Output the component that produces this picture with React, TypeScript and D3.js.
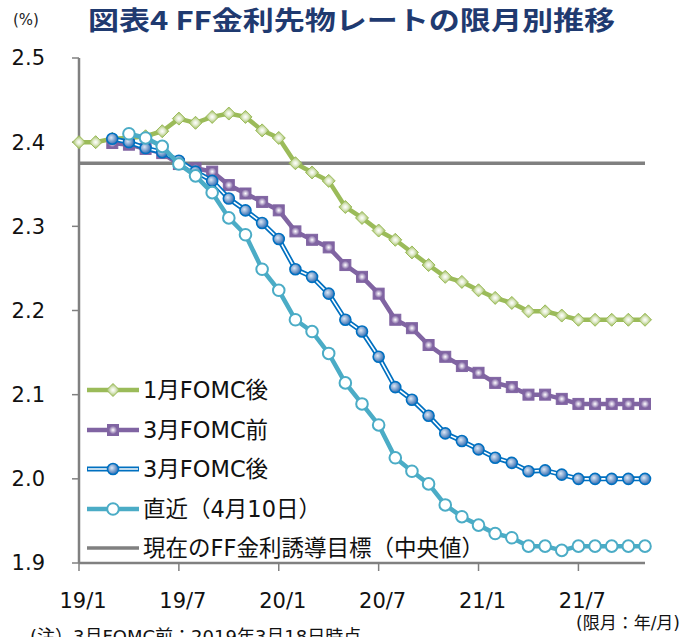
import React from 'react'
import * as d3 from 'd3'

// values (%), one per contract month starting at 19/1
const janAfter = [2.400, 2.400, 2.404, 2.405, 2.407, 2.413, 2.428, 2.423, 2.430, 2.434, 2.430, 2.414, 2.405, 2.375, 2.364, 2.354, 2.323, 2.310, 2.295, 2.284, 2.269, 2.254, 2.240, 2.234, 2.224, 2.215, 2.209, 2.199, 2.199, 2.194, 2.189, 2.189, 2.189, 2.189, 2.189]
const marBefore = [2.399, 2.397, 2.392, 2.387, 2.374, 2.369, 2.365, 2.349, 2.339, 2.329, 2.319, 2.294, 2.284, 2.275, 2.254, 2.240, 2.220, 2.189, 2.179, 2.159, 2.145, 2.134, 2.126, 2.114, 2.109, 2.100, 2.100, 2.095, 2.089, 2.089, 2.089, 2.089, 2.089]
const marAfter = [2.404, 2.400, 2.393, 2.388, 2.378, 2.365, 2.354, 2.333, 2.319, 2.304, 2.285, 2.249, 2.240, 2.220, 2.189, 2.175, 2.145, 2.109, 2.094, 2.075, 2.054, 2.045, 2.035, 2.025, 2.019, 2.009, 2.010, 2.005, 2.000, 2.000, 2.000, 2.000, 2.000]
const latest = [2.410, 2.405, 2.395, 2.374, 2.360, 2.340, 2.310, 2.290, 2.249, 2.224, 2.189, 2.175, 2.149, 2.114, 2.089, 2.064, 2.025, 2.009, 1.994, 1.969, 1.955, 1.945, 1.935, 1.930, 1.920, 1.920, 1.915, 1.920, 1.920, 1.920, 1.920, 1.920]
const targetRate = 2.375

const seriesStart = { janAfter: 0, marBefore: 2, marAfter: 2, latest: 3 }
const xTickLabels = ['19/1', '19/7', '20/1', '20/7', '21/1', '21/7']
const yTicks = [2.5, 2.4, 2.3, 2.2, 2.1, 2.0, 1.9]
const legendLabels = ['1月FOMC後', '3月FOMC前', '3月FOMC後', '直近（4月10日）', '現在のFF金利誘導目標（中央値）']

const W = 683
const H = 637
const font = 'DejaVu Sans, "Noto Sans CJK JP", sans-serif'

const x = d3.scaleLinear().domain([0, 34]).range([79, 645])
const y = d3.scaleLinear().domain([1.9, 2.5]).range([563, 58])

const GREEN = '#9BBB59'
const PURPLE = '#8064A2'
const BLUE = '#0070C0'
const CYAN = '#4BACC6'
const GRAY = '#808080'

const toPoints = (vals: number[], start: number) => vals.map((v, i) => [start + i, v] as [number, number])

const line = d3.line<[number, number]>().x(d => x(d[0])).y(d => y(d[1]))

const Diamond = ({ cx, cy }: { cx: number; cy: number }) => (
  <path d={`M${cx},${cy - 6.5}L${cx + 6.5},${cy}L${cx},${cy + 6.5}L${cx - 6.5},${cy}Z`} fill="url(#gGreen)" stroke={GREEN} strokeWidth={1} />
)
const Square = ({ cx, cy }: { cx: number; cy: number }) => (
  <rect x={cx - 5.5} y={cy - 5.5} width={11} height={11} fill="url(#gPurple)" stroke={PURPLE} strokeWidth={1} />
)
const Ball = ({ cx, cy }: { cx: number; cy: number }) => (
  <circle cx={cx} cy={cy} r={5.5} fill="url(#gBlue)" stroke={BLUE} strokeWidth={1.6} />
)
const Ring = ({ cx, cy }: { cx: number; cy: number }) => (
  <circle cx={cx} cy={cy} r={5.8} fill="#fff" stroke={CYAN} strokeWidth={2} />
)

export default function App() {
  const green = toPoints(janAfter, seriesStart.janAfter)
  const purple = toPoints(marBefore, seriesStart.marBefore)
  const blue = toPoints(marAfter, seriesStart.marAfter)
  const cyan = toPoints(latest, seriesStart.latest)

  const legendY = [390, 430, 469, 509, 548]
  const lx0 = 87
  const lx1 = 139
  const lxm = 113

  return (
    <svg width={W} height={H} style={{ position: 'absolute', left: 0, top: 0 }} fontFamily={font}>
      <defs>
        <radialGradient id="gGreen">
          <stop offset="0" stopColor="#ffffff" />
          <stop offset="0.35" stopColor="#E6EED5" />
          <stop offset="1" stopColor={GREEN} />
        </radialGradient>
        <radialGradient id="gPurple">
          <stop offset="0" stopColor="#ffffff" />
          <stop offset="0.3" stopColor="#CFC4DD" />
          <stop offset="0.75" stopColor={PURPLE} />
        </radialGradient>
        <radialGradient id="gBlue" cx="0.4" cy="0.4">
          <stop offset="0" stopColor="#DCE6F4" />
          <stop offset="1" stopColor="#4F81BD" />
        </radialGradient>
      </defs>

      <rect width={W} height={H} fill="#fff" />

      <text x={13} y={25} fontSize={15} fill="#222">(%)</text>
      <text x={88} y={30} fontSize={26} fontWeight="bold" fill="#1F3A70" textLength={527} lengthAdjust="spacingAndGlyphs"
        fontFamily='"Noto Sans CJK JP", sans-serif'>図表4 FF金利先物レートの限月別推移</text>

      {/* axes */}
      <line x1={x(0)} x2={x(0)} y1={y(2.5)} y2={y(1.9)} stroke={GRAY} strokeWidth={2.5} />
      <line x1={x(0)} x2={x(34)} y1={y(1.9)} y2={y(1.9)} stroke={GRAY} strokeWidth={2.5} />
      {yTicks.map(t => (
        <g key={t}>
          <line x1={x(0) - 7} x2={x(0)} y1={y(t)} y2={y(t)} stroke={GRAY} strokeWidth={1.5} />
          <text x={45} y={y(t)} dy="0.35em" fontSize={21} textAnchor="end" fill="#111">{t.toFixed(1)}</text>
        </g>
      ))}
      {xTickLabels.map((lab, i) => (
        <g key={lab}>
          <line x1={x(i * 6)} x2={x(i * 6)} y1={y(1.9)} y2={y(1.9) + 8} stroke={GRAY} strokeWidth={1.5} />
          <text x={x(i * 6) + 4} y={608} fontSize={21} textAnchor="middle" fill="#111">{lab}</text>
        </g>
      ))}
      <text x={680} y={629} fontSize={17} textAnchor="end" fill="#111">(限月：年/月)</text>
      <text x={30} y={643} fontSize={18} fill="#111">(注）3月FOMC前：2019年3月18日時点</text>

      {/* target line */}
      <line x1={x(0)} x2={x(34)} y1={y(targetRate)} y2={y(targetRate)} stroke={GRAY} strokeWidth={3.5} />

      {/* series */}
      <path d={line(green) ?? ''} fill="none" stroke={GREEN} strokeWidth={4.5} />
      {green.map(d => <Diamond key={d[0]} cx={x(d[0])} cy={y(d[1])} />)}

      <path d={line(purple) ?? ''} fill="none" stroke={PURPLE} strokeWidth={4.5} />
      {purple.map(d => <Square key={d[0]} cx={x(d[0])} cy={y(d[1])} />)}

      <path d={line(blue) ?? ''} fill="none" stroke={BLUE} strokeWidth={5} />
      <path d={line(blue) ?? ''} fill="none" stroke="#fff" strokeWidth={1.6} />
      {blue.map(d => <Ball key={d[0]} cx={x(d[0])} cy={y(d[1])} />)}

      <path d={line(cyan) ?? ''} fill="none" stroke={CYAN} strokeWidth={4.5} />
      {cyan.map(d => <Ring key={d[0]} cx={x(d[0])} cy={y(d[1])} />)}

      {/* legend */}
      <g>
        <line x1={lx0} x2={lx1} y1={legendY[0]} y2={legendY[0]} stroke={GREEN} strokeWidth={4.5} />
        <Diamond cx={lxm} cy={legendY[0]} />
        <line x1={lx0} x2={lx1} y1={legendY[1]} y2={legendY[1]} stroke={PURPLE} strokeWidth={4.5} />
        <Square cx={lxm} cy={legendY[1]} />
        <line x1={lx0} x2={lx1} y1={legendY[2]} y2={legendY[2]} stroke={BLUE} strokeWidth={5} />
        <line x1={lx0 + 1} x2={lx1 - 1} y1={legendY[2]} y2={legendY[2]} stroke="#fff" strokeWidth={1.6} />
        <Ball cx={lxm} cy={legendY[2]} />
        <line x1={lx0} x2={lx1} y1={legendY[3]} y2={legendY[3]} stroke={CYAN} strokeWidth={4.5} />
        <Ring cx={lxm} cy={legendY[3]} />
        <line x1={lx0} x2={lx1} y1={legendY[4]} y2={legendY[4]} stroke={GRAY} strokeWidth={3.5} />
        {legendLabels.map((lab, i) => (
          <text key={lab} x={143} y={legendY[i]} dy="0.36em" fontSize={22.5} fill="#111">{lab}</text>
        ))}
      </g>
    </svg>
  )
}
